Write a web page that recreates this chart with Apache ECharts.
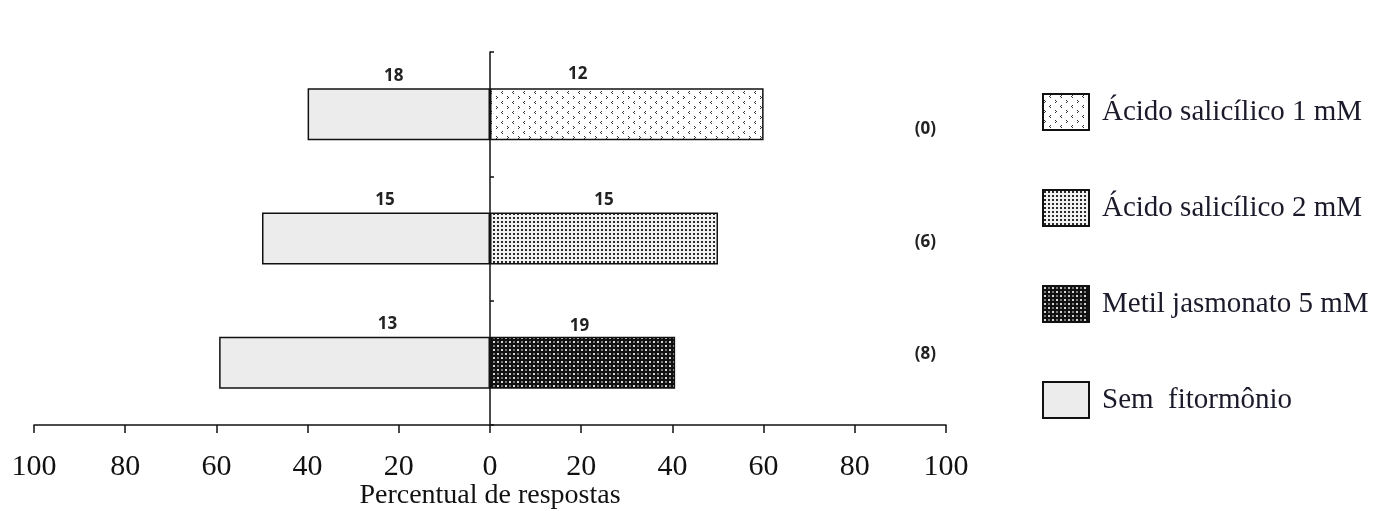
<!DOCTYPE html>
<html>
<head>
<meta charset="utf-8">
<script src="https://cdn.jsdelivr.net/npm/echarts@6/dist/echarts.min.js"></script>
<style>
html,body{margin:0;padding:0;background:#fff;}
#chart{width:1386px;height:511px;}
</style>
</head>
<body>
<div id="chart"></div>
<script>
// ---- data ----
const categories = ['(0)', '(6)', '(8)'];
const seriesNames = ['Ácido salicílico 1 mM', 'Ácido salicílico 2 mM', 'Metil jasmonato 5 mM', 'Sem  fitormônio'];
const semFitormonio = [40, 50, 59.4];        // plotted to the left
const acidoSalicilico1 = [60, null, null];
const acidoSalicilico2 = [null, 50, null];
const metilJasmonato5 = [null, null, 40.6];
const semCounts = [18, 15, 13];              // labels above left bars
const tratamentoCounts = [12, 15, 19];       // labels above right bars
const xMin = -100, xMax = 100, xInterval = 20;

// ---- patterns (styling) ----
function makePattern(w, h, draw) {
  const c = document.createElement('canvas');
  c.width = w; c.height = h;
  const g = c.getContext('2d');
  draw(g);
  return { image: c, repeat: 'repeat' };
}
const patChevron = makePattern(11, 10, g => {
  g.fillStyle = '#fff'; g.fillRect(0, 0, 11, 10);
  g.fillStyle = '#333';
  g.fillRect(7, 1, 1, 1); g.fillRect(6, 2, 1, 1); g.fillRect(7, 3, 1, 1);
  g.fillRect(1, 6, 1, 1); g.fillRect(2, 7, 1, 1); g.fillRect(1, 8, 1, 1);
});
const patDots = makePattern(4, 4, g => {
  g.fillStyle = '#f2f2f2'; g.fillRect(0, 0, 4, 4);
  g.fillStyle = '#2a2a2a'; g.fillRect(1, 1, 2, 2);
});
const patDark = makePattern(8, 8, g => {
  g.fillStyle = '#111'; g.fillRect(0, 0, 8, 8);
  g.fillStyle = '#d8d8d8'; g.fillRect(1, 1, 2, 2); g.fillRect(5, 5, 2, 2);
  g.fillStyle = '#777'; g.fillRect(5, 1, 2, 2); g.fillRect(1, 5, 2, 2);
});

const semLabelOffsets = [[-5, 0], [9, 0], [33, 0]];
const tratLabelOffsets = [[-49, -2], [0, 0], [-3, 2]];
const labelFont = { fontFamily: '"Open Sans", "Liberation Sans", sans-serif', fontWeight: 'bold', fontSize: 17, color: '#222' };
const serif = '"Liberation Serif", "DejaVu Serif", serif';

function treatmentSeries(name, values, pattern) {
  return {
    name: name, type: 'bar', stack: 'total', barWidth: 52,
    itemStyle: { color: pattern, borderColor: '#111', borderWidth: 1.5 },
    data: values.map((v, i) => v == null ? '-' : {
      value: v,
      label: { show: true, position: 'top', distance: 4, offset: tratLabelOffsets[i],
               formatter: String(tratamentoCounts[i]), ...labelFont }
    })
  };
}

const rightLabelRich = {
  r0: { ...labelFont, padding: [30, 0, 0, 0] },
  r1: { ...labelFont, padding: [8, 0, 0, 0] },
  r2: { ...labelFont, padding: [0, 0, 18, 0] }
};

const option = {
  backgroundColor: '#fff',
  animation: false,
  grid: { left: 34, right: 440, top: 52, bottom: 86, containLabel: false, outerBoundsMode: 'none' },
  legend: {
    orient: 'vertical', left: 1037, top: 88,
    icon: 'rect',
    itemWidth: 46, itemHeight: 36, itemGap: 58,
    data: seriesNames,
    textStyle: { fontFamily: serif, fontSize: 29, color: '#1a1a2a', padding: [0, 0, 0, 8] },
    selectedMode: false
  },
  xAxis: {
    type: 'value', min: xMin, max: xMax, interval: xInterval,
    name: 'Percentual de respostas', nameLocation: 'middle', nameGap: 57,
    nameMoveOverlap: false,
    nameTextStyle: { fontFamily: serif, fontSize: 28, color: '#111' },
    axisLine: { show: true, onZero: false, lineStyle: { color: '#111', width: 1.5 } },
    axisTick: { show: true, length: 8, lineStyle: { color: '#111', width: 1.5 } },
    axisLabel: { margin: 27, fontFamily: serif, fontSize: 30, color: '#111',
                 formatter: v => String(Math.abs(v)) },
    splitLine: { show: false }
  },
  yAxis: [{
    type: 'category', data: categories, inverse: true,
    axisLine: { show: true, onZero: true, lineStyle: { color: '#111', width: 1.5 } },
    axisTick: { show: true, inside: true, length: 4, lineStyle: { color: '#111', width: 1.5 } },
    axisLabel: { show: false }
  }, {
    type: 'category', data: categories, inverse: true, position: 'right',
    axisLine: { show: false }, axisTick: { show: false },
    axisLabel: { inside: true, margin: 10, align: 'right',
                 formatter: (v, i) => '{r' + i + '|' + v + '}', rich: rightLabelRich }
  }],
  series: [
    treatmentSeries(seriesNames[0], acidoSalicilico1, patChevron),
    treatmentSeries(seriesNames[1], acidoSalicilico2, patDots),
    treatmentSeries(seriesNames[2], metilJasmonato5, patDark),
    {
      name: seriesNames[3], type: 'bar', stack: 'total', barWidth: 52,
      itemStyle: { color: '#ececec', borderColor: '#111', borderWidth: 1.5 },
      data: semFitormonio.map((v, i) => ({
        value: -v,
        label: { show: true, position: 'top', distance: 4, offset: semLabelOffsets[i],
                 formatter: String(semCounts[i]), ...labelFont }
      }))
    }
  ]
};

const chart = echarts.init(document.getElementById('chart'), null, { renderer: 'canvas' });
chart.setOption(option);
</script>
</body>
</html>
